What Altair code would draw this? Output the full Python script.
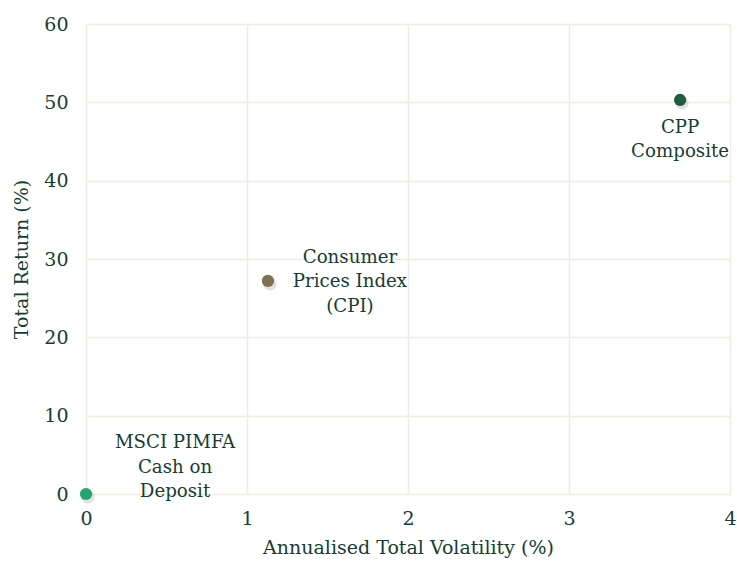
import altair as alt
import pandas as pd

names = ["CPP Composite", "Consumer Prices Index (CPI)", "MSCI PIMFA Cash on Deposit"]
labels = [["CPP", "Composite"], ["Consumer", "Prices Index", "(CPI)"], ["MSCI PIMFA", "Cash on", "Deposit"]]
volatility = [3.69, 1.13, 0.0]
total_return = [50.3, 27.2, 0.0]
colors = ["#1d5c42", "#7d7150", "#23a56f"]

df = pd.DataFrame({"name": names, "vol": volatility, "ret": total_return,
                   "label": labels, "color": colors})

FONT = "DejaVu Serif"
TXT = "#163d33"
FS = 18.2

x = alt.X("vol:Q", scale=alt.Scale(domain=[0, 4], nice=False),
          axis=alt.Axis(title="Annualised Total Volatility (%)", values=[0, 1, 2, 3, 4],
                        format="d", grid=True, gridColor="#efebe5", gridWidth=1.5,
                        domain=False, ticks=False, labelPadding=15, labelFlush=False,
                        labelFont=FONT, labelFontSize=19, labelColor=TXT,
                        titleFont=FONT, titleFontSize=19, titleColor=TXT,
                        titleFontWeight="normal", titlePadding=10))
y = alt.Y("ret:Q", scale=alt.Scale(domain=[0, 60], nice=False),
          axis=alt.Axis(title="Total Return (%)", values=[0, 10, 20, 30, 40, 50, 60],
                        grid=True, gridColor="#efebe5", gridWidth=1.5,
                        domain=False, ticks=False, labelPadding=18, labelFlush=False,
                        labelFont=FONT, labelFontSize=19, labelColor=TXT,
                        titleFont=FONT, titleFontSize=19, titleColor=TXT,
                        titleFontWeight="normal", titlePadding=12))

base = alt.Chart(df)

shadow = base.mark_circle(size=170, color="#000000", opacity=0.12).encode(
    x=x, y=y, xOffset=alt.value(2), yOffset=alt.value(3))

points = base.mark_circle(size=150, opacity=1).encode(
    x=x, y=y, color=alt.Color("color:N", scale=None))

def label_layer(name, dx, dy):
    return base.transform_filter(alt.datum.name == name).mark_text(
        font=FONT, fontSize=FS, color=TXT, align="center", baseline="middle",
        dx=dx, dy=dy, lineHeight=24.5).encode(x=x, y=y, text="label")

t1 = label_layer(names[0], 0, 28)
t2 = label_layer(names[1], 82, -23)
t3 = label_layer(names[2], 89, -51)

chart = alt.layer(shadow, points, t1, t2, t3).properties(
    width=644, height=470, autosize="none",
    padding={"left": 86, "top": 24, "right": 7, "bottom": 71}
).configure_view(stroke=None).configure(background="white")

chart.save("out.html", embed_options={"renderer": "svg", "actions": False})
